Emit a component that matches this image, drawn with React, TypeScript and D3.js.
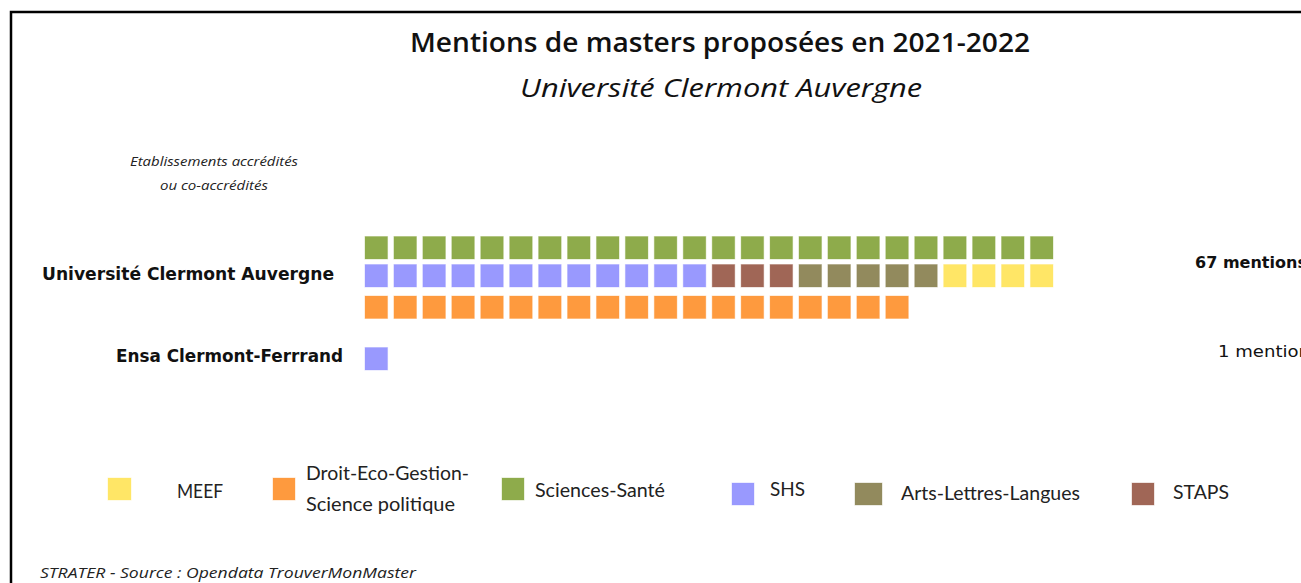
import React from "react";
import * as d3 from "d3";

// ---- Data ----
const categories = [
  "MEEF",
  "Droit-Eco-Gestion-Science politique",
  "Sciences-Santé",
  "SHS",
  "Arts-Lettres-Langues",
  "STAPS",
];
const categoryColors = ["#ffe666", "#fe9a3e", "#8eab4b", "#9999fe", "#928a5d", "#a06656"];
const institutions = ["Université Clermont Auvergne", "Ensa Clermont-Ferrrand"];
const ucaCounts = [4, 19, 24, 12, 5, 3];
const ensaCounts = [0, 0, 0, 1, 0, 0];
const totalLabels = ["67 mentions", "1 mention"];
// row arrangement of categories (indices into categories) for each institution
const ucaRows = [[2], [3, 5, 4, 0], [1]];
const ensaRows = [[3]];
const legendLabels = [
  ["MEEF"],
  ["Droit-Eco-Gestion-", "Science politique"],
  ["Sciences-Santé"],
  ["SHS"],
  ["Arts-Lettres-Langues"],
  ["STAPS"],
];

const W = 1301;
const H = 583;

function buildCells(counts: number[], rows: number[][]) {
  const out: { row: number; col: number; cat: number }[] = [];
  rows.forEach((cats, r) => {
    let col = 0;
    cats.forEach((c) => {
      d3.range(counts[c]).forEach(() => {
        out.push({ row: r, col: col++, cat: c });
      });
    });
  });
  return out;
}

export default function App() {
  const maxCols = 24;
  const x = d3.scaleBand<number>().domain(d3.range(maxCols)).range([365, 1053]).paddingInner(0.22).paddingOuter(0);
  const size = x.bandwidth();
  const ucaY = d3.scaleOrdinal<number, number>().domain([0, 1, 2]).range([236.5, 264.5, 296]);
  const ensaY = d3.scaleOrdinal<number, number>().domain([0]).range([347.5]);
  const ucaCells = buildCells(ucaCounts, ucaRows);
  const ensaCells = buildCells(ensaCounts, ensaRows);

  const legendPos = [
    { sx: 108, sy: 478, sw: 23, tx: 177, ty: [498], tw: [46] },
    { sx: 273, sy: 478, sw: 22, tx: 306, ty: [480, 511], tw: [163, 149] },
    { sx: 502, sy: 478, sw: 22, tx: 535, ty: [497], tw: [130] },
    { sx: 732, sy: 483, sw: 22, tx: 770, ty: [496], tw: [35] },
    { sx: 855, sy: 483, sw: 27, tx: 901, ty: [500], tw: [179] },
    { sx: 1132, sy: 483, sw: 22, tx: 1173, ty: [499], tw: [56] },
  ];

  const sq = (c: { row: number; col: number; cat: number }, yScale: any, i: number) => (
    <rect
      key={i}
      x={x(c.col)}
      y={yScale(c.row)}
      width={size}
      height={22.5}
      fill={categoryColors[c.cat]}
      stroke={categoryColors[c.cat]}
      strokeOpacity={0.35}
      strokeWidth={1}
    />
  );

  return (
    <svg width={W} height={H} style={{ position: "absolute", left: 0, top: 0, background: "#fff" }}>
      <rect x={0} y={0} width={W} height={H} fill="#fff" />
      <rect x={11} y={12} width={1500} height={900} fill="none" stroke="#000" strokeWidth={2.5} />
      <text x={410} y={52} fontFamily="Open Sans" fontWeight={600} fontSize={27} fill="#111" textLength={620} lengthAdjust="spacingAndGlyphs">
        Mentions de masters proposées en 2021-2022
      </text>
      <text x={520} y={97} fontFamily="Open Sans" fontStyle="italic" fontWeight={500} fontSize={26} fill="#111" textLength={402} lengthAdjust="spacingAndGlyphs">
        Université Clermont Auvergne
      </text>
      <text x={130} y={166} fontFamily="Open Sans" fontStyle="italic" fontSize={12} fill="#222" textLength={168} lengthAdjust="spacingAndGlyphs">
        Etablissements accrédités
      </text>
      <text x={160} y={190} fontFamily="Open Sans" fontStyle="italic" fontSize={12} fill="#222" textLength={108} lengthAdjust="spacingAndGlyphs">
        ou co-accrédités
      </text>

      <text x={42} y={280} fontFamily="DejaVu Sans" fontWeight="bold" fontSize={18} fill="#111" textLength={292} lengthAdjust="spacingAndGlyphs">
        {institutions[0]}
      </text>
      <text x={116} y={362} fontFamily="DejaVu Sans" fontWeight="bold" fontSize={18} fill="#111" textLength={227} lengthAdjust="spacingAndGlyphs">
        {institutions[1]}
      </text>

      <g>{ucaCells.map((c, i) => sq(c, ucaY, i))}</g>
      <g>{ensaCells.map((c, i) => sq(c, ensaY, i))}</g>

      <text x={1195} y={268} fontFamily="DejaVu Sans" fontWeight="bold" fontSize={15} fill="#111" textLength={112} lengthAdjust="spacingAndGlyphs">
        {totalLabels[0]}
      </text>
      <text x={1218} y={357} fontFamily="DejaVu Sans" fontSize={15} fill="#111" textLength={92} lengthAdjust="spacingAndGlyphs">
        {totalLabels[1]}
      </text>

      {legendPos.map((p, i) => (
        <g key={i}>
          <rect x={p.sx} y={p.sy} width={p.sw} height={22} fill={categoryColors[i]} stroke={categoryColors[i]} strokeOpacity={0.35} />
          {legendLabels[i].map((t, j) => (
            <text key={j} x={p.tx} y={p.ty[j]} fontFamily="Lato" fontSize={18.5} fill="#222" textLength={p.tw[j]} lengthAdjust="spacingAndGlyphs">
              {t}
            </text>
          ))}
        </g>
      ))}

      <text x={40} y={578} fontFamily="Open Sans" fontStyle="italic" fontSize={15} fill="#222" textLength={376} lengthAdjust="spacingAndGlyphs">
        STRATER - Source : Opendata TrouverMonMaster
      </text>
    </svg>
  );
}
